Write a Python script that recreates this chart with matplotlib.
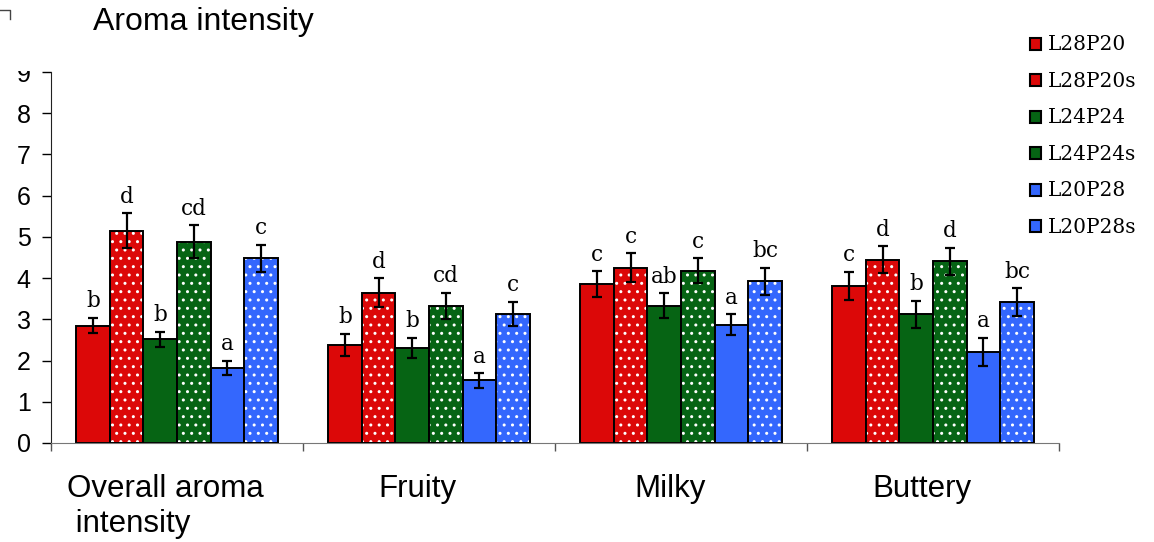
import numpy as np
import matplotlib.pyplot as plt
from matplotlib.patches import Rectangle, Patch
from matplotlib.lines import Line2D
from matplotlib.legend_handler import HandlerPatch

# Attributes and treatments
categories = ["Overall aroma\n intensity", "Fruity", "Milky", "Buttery"]
treatments = ["L28P20", "L28P20s", "L24P24", "L24P24s", "L20P28", "L20P28s"]

# Mean scores per treatment (one value per category)
means = {
    "L28P20":  [2.85, 2.38, 3.85, 3.81],
    "L28P20s": [5.15, 3.65, 4.25, 4.45],
    "L24P24":  [2.52, 2.30, 3.33, 3.12],
    "L24P24s": [4.88, 3.33, 4.18, 4.41],
    "L20P28":  [1.82, 1.52, 2.87, 2.21],
    "L20P28s": [4.48, 3.13, 3.92, 3.42],
}
errors = {
    "L28P20":  [0.19, 0.27, 0.32, 0.35],
    "L28P20s": [0.42, 0.35, 0.35, 0.33],
    "L24P24":  [0.18, 0.25, 0.30, 0.33],
    "L24P24s": [0.40, 0.32, 0.30, 0.33],
    "L20P28":  [0.18, 0.18, 0.25, 0.34],
    "L20P28s": [0.33, 0.30, 0.33, 0.33],
}
letters = {
    "L28P20":  ["b", "b", "c", "c"],
    "L28P20s": ["d", "d", "c", "d"],
    "L24P24":  ["b", "b", "ab", "b"],
    "L24P24s": ["cd", "cd", "c", "d"],
    "L20P28":  ["a", "a", "a", "a"],
    "L20P28s": ["c", "c", "bc", "bc"],
}

red, green, blue = "#dc0808", "#066414", "#3467fd"
colors = [red, red, green, green, blue, blue]
dotted = [False, True, False, True, False, True]

W, H = 1154, 542
fig = plt.figure(figsize=(W / 100, H / 100), dpi=100)
ax = fig.add_axes([51 / W, 1 - 443 / H, (1059 - 51) / W, (443 - 72) / H])

x = np.arange(len(categories))
width = 0.8 / len(treatments)

for i, t in enumerate(treatments):
    pos = x - 0.4 + width * (i + 0.5)
    if dotted[i]:
        ax.bar(pos, means[t], width, color=colors[i], edgecolor="white",
               hatch="..", linewidth=0, zorder=2)
        ax.bar(pos, means[t], width, fill=False, edgecolor="black",
               linewidth=1.4, zorder=3)
    else:
        ax.bar(pos, means[t], width, color=colors[i], edgecolor="black",
               linewidth=1.4, zorder=2)
    ax.errorbar(pos, means[t], yerr=errors[t], fmt="none", ecolor="black",
                elinewidth=1.6, capsize=3.5, capthick=1.6, zorder=4)
    for px, m, e, lab in zip(pos, means[t], errors[t], letters[t]):
        ax.annotate(lab, (px, m + e), xytext=(0, 7.5), textcoords="offset points",
                    ha="center", va="baseline", fontsize=15.5,
                    family="DejaVu Serif")

ax.set_xlim(-0.5, len(categories) - 0.5)
ax.set_ylim(0, 9)
ax.set_yticks(range(0, 10))
ax.set_xticks(np.arange(len(categories) + 1) - 0.5)
ax.set_xticklabels([])
ax.tick_params(axis="y", direction="out", length=6.5, width=1, labelsize=18, pad=8)
ax.tick_params(axis="x", direction="out", length=6, width=1, color="#555555")
for lbl in ax.get_yticklabels():
    lbl.set_family("Liberation Sans")

ax.spines["top"].set_visible(False)
ax.spines["right"].set_visible(False)
ax.spines["bottom"].set_color("#777777")
ax.spines["left"].set_color("#222222")

# category names below the axis, nudged a little left
for xi, name in zip(x, categories):
    ax.text(xi - 0.045, -0.75, name, ha="center", va="top", fontsize=22.5,
            family="Liberation Sans", multialignment="left", linespacing=1.2)

fig.text(93 / W, 1 - 22 / H, "Aroma intensity", ha="left", va="center",
         fontsize=23, family="Liberation Sans")

# mask over the top of the y axis labels
fig.patches.append(Rectangle((12 / W, 1 - 71 / H), 33 / W, 71 / H,
                             transform=fig.transFigure, facecolor="white",
                             edgecolor="none", zorder=5))
fig.lines.append(Line2D([0, 10 / W, 10 / W],
                        [1 - 10 / H, 1 - 10 / H, 1 - 19 / H],
                        transform=fig.transFigure, color="#444444", lw=1))

# legend
handles = []
for i, t in enumerate(treatments):
    handles.append(Patch(facecolor=colors[i], edgecolor="black", linewidth=1.4,
                         hatch=".." if dotted[i] else None, label=t))


class SquareHandler(HandlerPatch):
    def create_artists(self, legend, orig_handle, xdescent, ydescent, width,
                       height, fontsize, trans):
        s = 8.5
        p = Rectangle((xdescent + (width - s) / 2, ydescent + (height - s) / 2), s, s,
                      facecolor=orig_handle.get_facecolor(), edgecolor="black",
                      linewidth=1.5, transform=trans)
        return [p]


leg = fig.legend(handles=handles, loc="upper left",
                 bbox_to_anchor=(1029 / W, 1 - 35 / H),
                 frameon=False, prop={"family": "DejaVu Serif", "size": 14.5},
                 handlelength=0.65, handleheight=0.65, handletextpad=0.3,
                 labelspacing=0.87, borderaxespad=0, borderpad=0,
                 handler_map={Patch: SquareHandler()})

fig.savefig("out.png", dpi=100)
